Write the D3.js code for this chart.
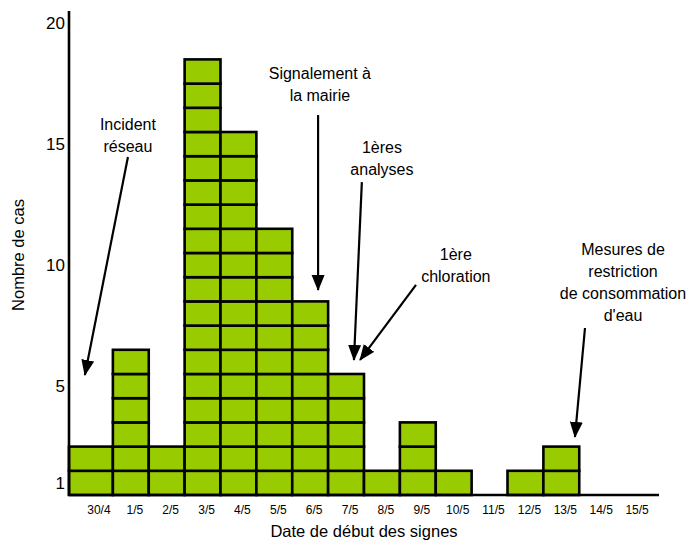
<!DOCTYPE html>
<html>
<head>
<meta charset="utf-8">
<script src="https://cdn.jsdelivr.net/npm/d3@7"></script>
<style>
  body { margin: 0; background: #fff; }
  text { font-family: "Liberation Sans", Arial, sans-serif; fill: #000; }
</style>
</head>
<body>
<div id="chart"></div>
<script>
// dates (x categories) and number of cases per date
const dates = ['30/4', '1/5', '2/5', '3/5', '4/5', '5/5', '6/5', '7/5', '8/5', '9/5', '10/5', '11/5', '12/5', '13/5', '14/5', '15/5'];
const cases = [2, 6, 2, 18, 15, 11, 8, 5, 1, 3, 1, 0, 1, 2, 0, 0];
const yTicks = [1, 5, 10, 15, 20];

// annotations: text lines, text anchor and arrow, all in data units (date index, cases)
const annotationTexts = [
    ['Incident', 'réseau'],
    ['Signalement à', 'la mairie'],
    ['1ères', 'analyses'],
    ['1ère', 'chloration'],
    ['Mesures de', 'restriction', 'de consommation', "d'eau"]
];
const annotationAnchors = [[1.42, 15.08], [6.77, 17.19], [8.5, 14.13], [10.56, 9.71], [15.22, 9.92]];
const arrowFrom = [[1.42, 13.97], [6.72, 15.7], [7.94, 12.93], [9.45, 8.68], [14.16, 6.9]];
const arrowTo = [[0.22, 4.96], [6.72, 8.47], [7.72, 5.58], [7.89, 5.58], [13.88, 2.4]];

// constants for svg
const W = 693, H = 540;
const plot = { left: 69, top: 11, bottom: 495, right: 659 };

const svg = d3.select('#chart')
    .append('svg')
    .attr('width', W)
    .attr('height', H);

// scales
const x = d3.scaleLinear()
    .domain([0, 16])
    .range([77, 651]);

const y = d3.scaleLinear()
    .domain([0, 20])
    .range([plot.bottom, plot.top]);

// one box per case
const boxes = [];
cases.forEach((n, i) => {
    for (let k = 0; k < n; k++) {
        boxes.push({ i: i, k: k });
    }
});

// first column starts at the y axis
const x0 = i => i === 0 ? plot.left : x(i);

svg.append('g')
    .selectAll('rect')
    .data(boxes)
    .join('rect')
    .attr('x', d => x0(d.i))
    .attr('width', d => x(d.i + 1) - x0(d.i))
    .attr('y', d => y(d.k + 1))
    .attr('height', d => y(d.k) - y(d.k + 1))
    .attr('fill', '#99cc00')
    .attr('stroke', '#000')
    .attr('stroke-width', 2.6);

// axes lines
svg.append('line')
    .attr('x1', plot.left).attr('x2', plot.left)
    .attr('y1', plot.top).attr('y2', plot.bottom + 1)
    .attr('stroke', '#000')
    .attr('stroke-width', 2.6);

svg.append('line')
    .attr('x1', plot.left).attr('x2', plot.right)
    .attr('y1', plot.bottom).attr('y2', plot.bottom)
    .attr('stroke', '#000')
    .attr('stroke-width', 2.6);

// y tick labels (centred on each box row)
svg.append('g')
    .selectAll('text')
    .data(yTicks)
    .join('text')
    .attr('x', plot.left - 4)
    .attr('y', d => y(d - 0.5))
    .attr('dy', '0.36em')
    .attr('text-anchor', 'end')
    .style('font-size', '17px')
    .text(d => d);

// x tick labels
svg.append('g')
    .selectAll('text')
    .data(dates)
    .join('text')
    .attr('x', (d, i) => x(i + 0.5) + 4)
    .attr('y', 514)
    .attr('text-anchor', 'middle')
    .style('font-size', '12px')
    .text(d => d);

// axis titles
svg.append('text')
    .attr('x', 364)
    .attr('y', 537)
    .attr('text-anchor', 'middle')
    .style('font-size', '16.5px')
    .text('Date de début des signes');

svg.append('text')
    .attr('transform', 'translate(24,255) rotate(-90)')
    .attr('text-anchor', 'middle')
    .style('font-size', '16.5px')
    .text('Nombre de cas');

// arrow marker
svg.append('defs')
    .append('marker')
    .attr('id', 'arrow')
    .attr('markerUnits', 'userSpaceOnUse')
    .attr('viewBox', '0 -7 16 14')
    .attr('markerWidth', 16)
    .attr('markerHeight', 14)
    .attr('refX', 15)
    .attr('refY', 0)
    .attr('orient', 'auto')
    .append('path')
    .attr('d', 'M0,-6.5L16,0L0,6.5Z')
    .attr('fill', '#000');

// annotations
const notes = svg.append('g');
annotationTexts.forEach((lines, j) => {
    const t = notes.append('text')
        .attr('text-anchor', 'middle')
        .style('font-size', '16px');
    lines.forEach((line, li) => {
        t.append('tspan')
            .attr('x', x(annotationAnchors[j][0]))
            .attr('y', y(annotationAnchors[j][1]) + li * 22)
            .text(line);
    });
    notes.append('line')
        .attr('x1', x(arrowFrom[j][0]))
        .attr('y1', y(arrowFrom[j][1]))
        .attr('x2', x(arrowTo[j][0]))
        .attr('y2', y(arrowTo[j][1]))
        .attr('stroke', '#000')
        .attr('stroke-width', 2.2)
        .attr('marker-end', 'url(#arrow)');
});
</script>
</body>
</html>
